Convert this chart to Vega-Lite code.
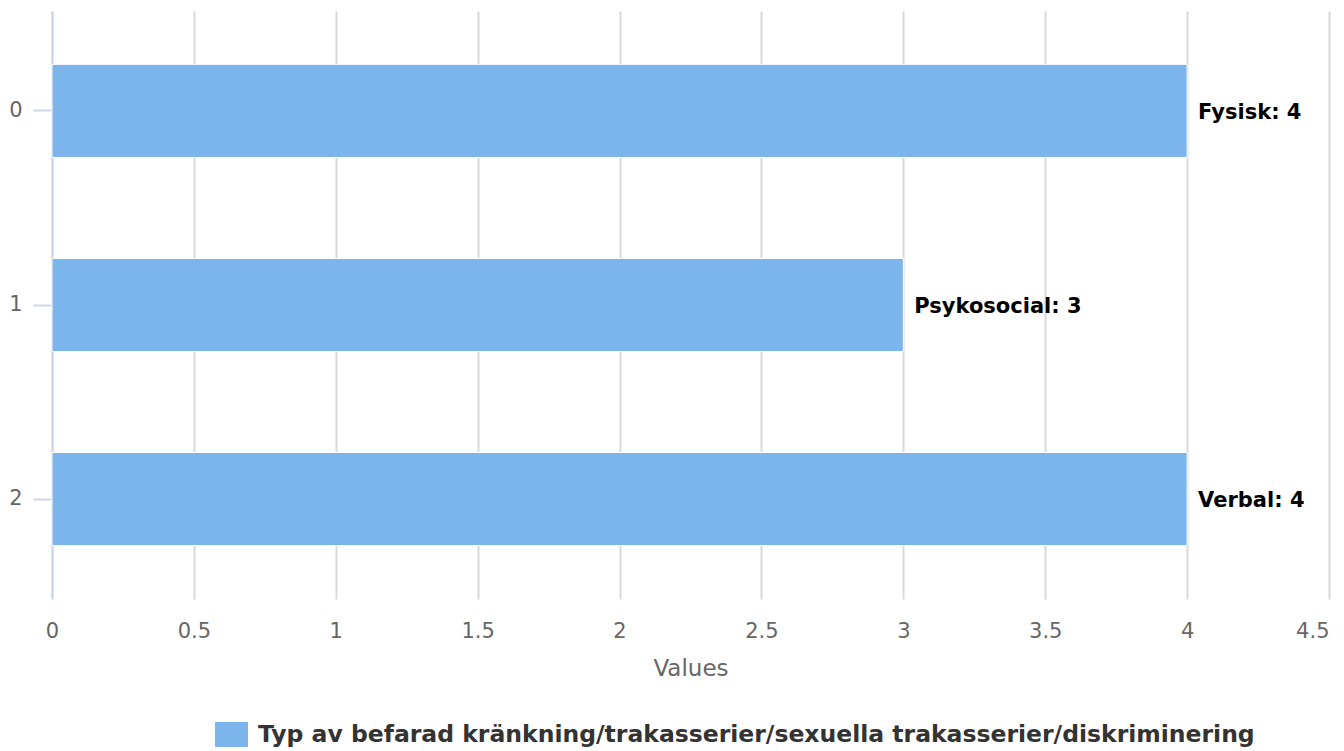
{
  "$schema": "https://vega.github.io/schema/vega-lite/v6.json",
  "autosize": "none",
  "width": 1277,
  "height": 588,
  "padding": {"left": 52, "top": 11, "right": 15, "bottom": 152},
  "background": "white",
  "config": {
    "font": "DejaVu Sans",
    "view": {"stroke": null}
  },
  "data": {
    "values": [
      {"index": "0", "name": "Fysisk", "value": 4, "series": "Typ av befarad kränkning/trakasserier/sexuella trakasserier/diskriminering"},
      {"index": "1", "name": "Psykosocial", "value": 3, "series": "Typ av befarad kränkning/trakasserier/sexuella trakasserier/diskriminering"},
      {"index": "2", "name": "Verbal", "value": 4, "series": "Typ av befarad kränkning/trakasserier/sexuella trakasserier/diskriminering"}
    ]
  },
  "encoding": {
    "y": {
      "field": "index",
      "type": "nominal",
      "sort": null,
      "scale": {"paddingInner": 0.52, "paddingOuter": 0.275},
      "axis": {
        "title": null,
        "labelFontSize": 21,
        "labelColor": "#666666",
        "labelPadding": 11,
        "tickSize": 19,
        "tickColor": "#ccd6eb",
        "tickWidth": 2,
        "domainColor": "#ccd6eb",
        "domainWidth": 2,
        "grid": false,
        "labelFont": "DejaVu Sans"
      }
    },
    "x": {
      "field": "value",
      "type": "quantitative",
      "scale": {"domain": [0, 4.5], "nice": false},
      "axis": {
        "values": [0, 0.5, 1, 1.5, 2, 2.5, 3, 3.5, 4, 4.5],
        "format": "~g",
        "title": "Values",
        "titleFontSize": 23,
        "titleFontWeight": "normal",
        "titleColor": "#666666",
        "titlePadding": 16,
        "labelFontSize": 21,
        "labelColor": "#666666",
        "labelPadding": 21,
        "labelFlush": false,
        "labelAlign": {"expr": "datum.value == 4.5 ? 'right' : 'center'"},
        "ticks": false,
        "domain": false,
        "grid": true,
        "gridColor": "#d9d9d9",
        "gridWidth": 2,
        "labelFont": "DejaVu Sans",
        "titleFont": "DejaVu Sans"
      }
    }
  },
  "layer": [
    {
      "mark": {"type": "bar", "stroke": "white", "strokeWidth": 1},
      "encoding": {
        "color": {
          "field": "series",
          "type": "nominal",
          "scale": {"range": ["#7cb5ec"]},
          "legend": {
            "title": null,
            "orient": "none",
            "legendX": 163,
            "legendY": 707,
            "padding": 0,
            "symbolType": "M-1,-0.76H1V0.76H-1Z",
            "symbolSize": 1089,
            "symbolStrokeWidth": 0,
            "symbolOpacity": 1,
            "labelFontSize": 23.5,
            "labelFontWeight": "bold",
            "labelColor": "#333333",
            "labelFont": "DejaVu Sans",
            "labelLimit": 2000,
            "labelOffset": 10
          }
        }
      }
    },
    {
      "mark": {"type": "text", "align": "left", "baseline": "middle", "dx": 11, "dy": 2, "fontSize": 21, "fontWeight": "bold", "color": "black", "font": "DejaVu Sans"},
      "encoding": {
        "text": {"field": "label"}
      },
      "transform": [{"calculate": "datum.name + ': ' + datum.value", "as": "label"}]
    }
  ]
}
